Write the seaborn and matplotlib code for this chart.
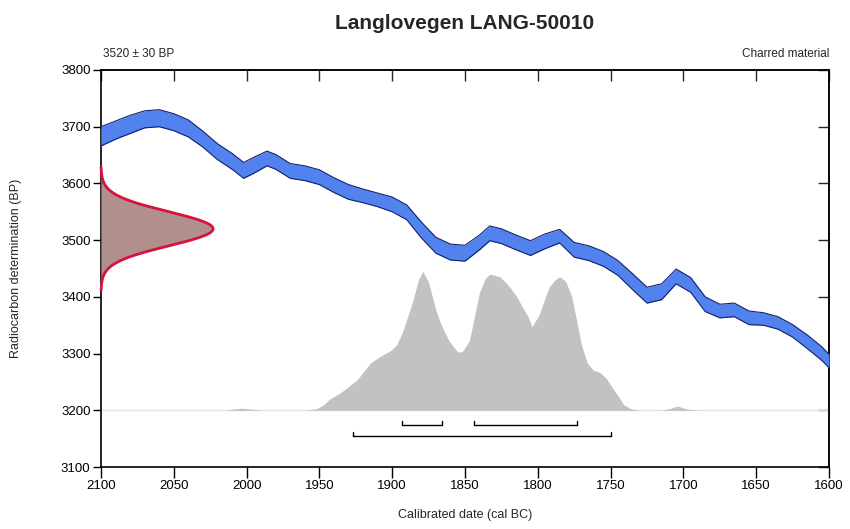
import numpy as np
import pandas as pd
import matplotlib
matplotlib.use("Agg")
import matplotlib.pyplot as plt
import seaborn as sns

# Sample: radiocarbon determination
title = "Langlovegen LANG-50010"
c14_age = 3520
c14_err = 30
material = "Charred material"

# Calibration curve (cal BC, BP centre and half-width)
cal_years = [2100, 2090, 2080, 2070, 2060, 2050, 2040, 2030, 2020, 2010, 2002, 1995,
             1986, 1980, 1970, 1960, 1950, 1940, 1930, 1920, 1910, 1900, 1890, 1880,
             1870, 1860, 1850, 1840, 1833, 1825, 1815, 1805, 1795, 1785, 1775, 1765,
             1755, 1745, 1735, 1725, 1715, 1705, 1695, 1685, 1675, 1665, 1655, 1645,
             1635, 1625, 1615, 1605, 1600]
cal_bp = [3683, 3694, 3704, 3713, 3715, 3708, 3697, 3678, 3656, 3639, 3623, 3632,
          3644, 3638, 3622, 3618, 3611, 3597, 3585, 3578, 3571, 3563, 3549, 3518,
          3491, 3479, 3477, 3496, 3512, 3507, 3496, 3486, 3498, 3507, 3483, 3477,
          3467, 3451, 3427, 3403, 3409, 3436, 3421, 3387, 3375, 3377, 3363, 3361,
          3354, 3340, 3321, 3300, 3287]
cal_err = [17, 16, 16, 15, 15, 15, 15, 14, 14, 14, 14, 14,
           13, 13, 13, 13, 13, 13, 13, 12, 12, 13, 13, 14,
           14, 14, 14, 13, 13, 13, 13, 13, 13, 12, 13, 13,
           13, 13, 14, 14, 14, 13, 13, 13, 12, 12, 12, 11,
           11, 11, 12, 12, 12]

# Calibrated probability distribution (relative, % of maximum)
post_years = [2100, 2015, 2008, 2003, 1998, 1990, 1960, 1952, 1947, 1943, 1935, 1924,
              1915, 1908, 1901, 1897, 1893, 1886, 1882, 1879, 1875, 1870, 1867, 1861,
              1855, 1852, 1847, 1844, 1840, 1836, 1833, 1829, 1826, 1822, 1818, 1814,
              1811, 1807, 1804, 1799, 1795, 1792, 1788, 1785, 1781, 1777, 1773, 1770,
              1766, 1762, 1757, 1753, 1748, 1744, 1741, 1736, 1730, 1715, 1710, 1704,
              1698, 1690, 1600]
post_rel = [0, 0, 1, 1.5, 1, 0, 0, 1, 4, 8, 13, 22,
            34, 39, 43, 47, 56, 78, 94, 100, 92, 72, 63, 50,
            42, 42, 50, 65, 85, 95, 98, 97, 96, 92, 87, 81,
            75, 68, 60, 69, 81, 89, 94, 96, 93, 83, 63, 47,
            34, 29, 27, 23, 15, 9, 4, 1, 0, 0, 1, 3,
            1, 0, 0]

# Highest posterior density ranges (cal BC)
hpd68 = [(1893, 1866), (1844, 1773)]
hpd95 = [(1927, 1750)]

x_ticks = [2100, 2050, 2000, 1950, 1900, 1850, 1800, 1750, 1700, 1650, 1600]
y_ticks = [3100, 3200, 3300, 3400, 3500, 3600, 3700, 3800]

sns.set_theme(style="white")
plt.rcParams["font.family"] = ["Liberation Sans", "DejaVu Sans"]

fig = plt.figure(figsize=(8.5, 5.29), dpi=100)
ax = fig.add_axes([0.1188, 0.1172, 0.8565, 0.7505])

baseline = 3200
post_height = 245
pdf_width = 77

# calibration curve band
cal = pd.DataFrame({"year": cal_years, "bp": cal_bp, "err": cal_err})
cal["lo"] = cal["bp"] - cal["err"]
cal["hi"] = cal["bp"] + cal["err"]
ax.fill_between(cal["year"], cal["lo"], cal["hi"], color="#5282ee", lw=0, zorder=3)
sns.lineplot(data=cal, x="year", y="lo", color="#14206e", lw=0.8, ax=ax, zorder=4)
sns.lineplot(data=cal, x="year", y="hi", color="#14206e", lw=0.8, ax=ax, zorder=4)

# calibrated distribution
post = pd.DataFrame({"year": post_years, "rel": post_rel})
post["top"] = baseline + np.array(post_rel) / 100.0 * post_height
ax.axhline(baseline, color="#e2e2e2", lw=1.0, zorder=1)
ax.fill_between(post["year"], baseline, post["top"], color="#c2c2c2", lw=0, zorder=2)

# radiocarbon measurement as a normal distribution on the BP axis
bp_grid = np.linspace(c14_age - 3.6 * c14_err, c14_age + 3.6 * c14_err, 200)
dens = np.exp(-0.5 * ((bp_grid - c14_age) / c14_err) ** 2)
xs = 2100 - dens * pdf_width
ax.fill_betweenx(bp_grid, 2100, xs, color="#b08f8c", lw=0, zorder=5)
ax.plot(np.r_[2100, xs, 2100], np.r_[bp_grid[0], bp_grid, bp_grid[-1]],
        color="#d8123c", lw=2.0, zorder=6, clip_on=False)

# range bars
def range_bar(lo, hi, y):
    ax.plot([lo, hi], [y, y], color="black", lw=1.0, zorder=4)
    for v in (lo, hi):
        ax.plot([v, v], [y, y + 7], color="black", lw=1.0, zorder=4)

for lo, hi in hpd68:
    range_bar(lo, hi, 3174)
for lo, hi in hpd95:
    range_bar(lo, hi, 3155)

ax.set_xlim(2100, 1600)
ax.set_ylim(3100, 3800)
ax.set_xticks(x_ticks)
ax.set_yticks(y_ticks)
ax.set_xticklabels([str(v) for v in x_ticks])
ax.set_yticklabels([str(v) for v in y_ticks])
ax.tick_params(axis="both", which="both", labelsize=9.5, colors="black",
               width=1.0, pad=1.5)
for spine in ax.spines.values():
    spine.set_color("black")
    spine.set_linewidth(1.2)

# inward ticks on top and right edges
sec_x = ax.secondary_xaxis("top")
sec_x.set_xticks(x_ticks)
sec_x.tick_params(direction="in", length=8, width=1.0, labeltop=False)
sec_y = ax.secondary_yaxis("right")
sec_y.set_yticks(y_ticks)
sec_y.tick_params(direction="in", length=8, width=1.0, labelright=False)
sec_x.spines["top"].set_linewidth(1.2)
sec_y.spines["right"].set_linewidth(1.2)
ax.tick_params(axis="x", bottom=True, top=False, direction="out", length=8)
ax.tick_params(axis="y", left=True, right=False, direction="out", length=6)

ax.set_xlabel("Calibrated date (cal BC)", fontsize=9, labelpad=12)
ax.set_ylabel("Radiocarbon determination (BP)", fontsize=9, labelpad=28)

fig.text(0.547, 0.955, title, ha="center", va="center", fontsize=15, fontweight="bold")
ax.text(0.003, 1.025, f"{c14_age} ± {c14_err} BP", transform=ax.transAxes,
        ha="left", va="bottom", fontsize=8.5)
ax.text(1.0, 1.025, material, transform=ax.transAxes,
        ha="right", va="bottom", fontsize=8.5)

fig.savefig("out.png", dpi=100)
